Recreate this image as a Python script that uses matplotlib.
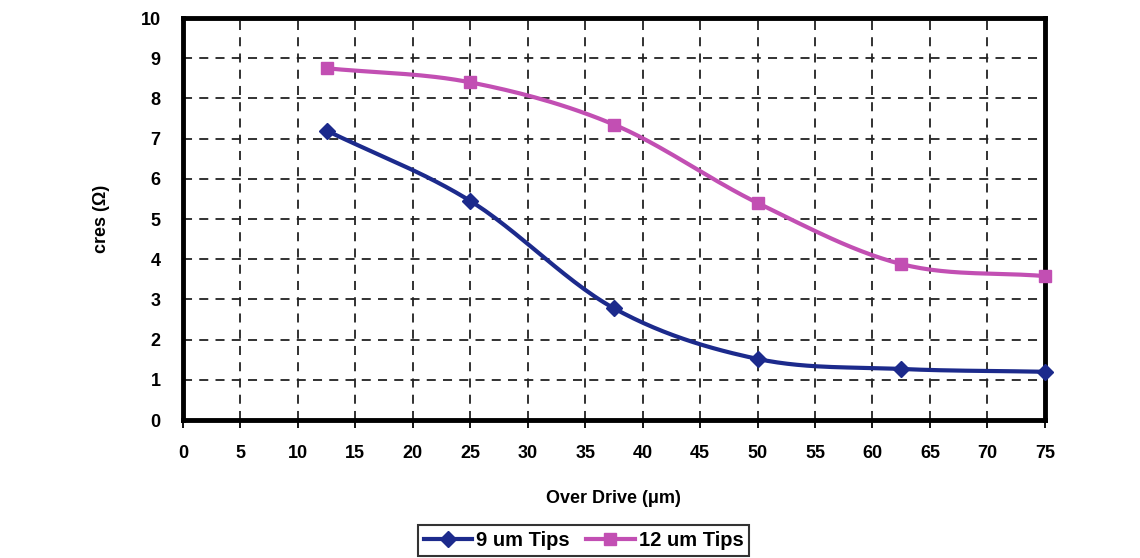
import numpy as np
from matplotlib import pyplot as plt

# data
drive = [12.5, 25, 37.5, 50, 62.5, 75]
tips9 = [7.2, 5.45, 2.78, 1.52, 1.27, 1.2]
tips12 = [8.75, 8.4, 7.35, 5.4, 3.88, 3.58]
xticks = list(range(0, 80, 5))
yticks = list(range(0, 11))


def smooth(x, y, n=30):
    # Catmull-Rom style smoothing like Excel's smoothed lines
    x = np.asarray(x, float)
    y = np.asarray(y, float)
    px = np.concatenate([[2 * x[0] - x[1]], x, [2 * x[-1] - x[-2]]])
    py = np.concatenate([[2 * y[0] - y[1]], y, [2 * y[-1] - y[-2]]])
    xs, ys = [], []
    t = np.linspace(0, 1, n)
    for i in range(1, len(px) - 2):
        for p, out in ((px, xs), (py, ys)):
            p0, p1, p2, p3 = p[i - 1], p[i], p[i + 1], p[i + 2]
            out.extend(0.5 * (2 * p1 + (-p0 + p2) * t
                              + (2 * p0 - 5 * p1 + 4 * p2 - p3) * t ** 2
                              + (-p0 + 3 * p1 - 3 * p2 + p3) * t ** 3))
    return xs, ys


plt.rcParams['font.family'] = ['Liberation Sans', 'DejaVu Sans']
plt.rcParams['font.weight'] = 'bold'

fig = plt.figure(figsize=(11.4, 5.58), dpi=100)
ax = fig.add_axes([0.1605, 0.2473, 0.756, 0.7204])

navy = '#1c2a8c'
pink = '#c24fb3'
sx, sy = smooth(drive, tips9)
ax.plot(sx, sy, c=navy, lw=3, zorder=3)
ax.plot(drive, tips9, ls='none', marker='D', ms=8, c=navy, zorder=4, clip_on=False)
sx, sy = smooth(drive, tips12)
ax.plot(sx, sy, c=pink, lw=3, zorder=3)
ax.plot(drive, tips12, ls='none', marker='s', ms=8, c=pink, zorder=4, clip_on=False)

# legend proxies
l1, = ax.plot([], [], c=navy, lw=3, marker='D', ms=8)
l2, = ax.plot([], [], c=pink, lw=3, marker='s', ms=8)

ax.set_xlim(0, 75)
ax.set_ylim(0, 10)
ax.set_xticks(xticks)
ax.set_yticks(yticks)
ax.grid(True, ls=(0, (5, 4)), c='#222222', lw=1.3)
for s in ax.spines.values():
    s.set_linewidth(3.5)
ax.tick_params(axis='x', direction='out', length=6, width=1.3, labelsize=13, pad=12)
ax.tick_params(axis='y', length=0, labelsize=13, pad=16)
ax.set_xlabel('Over Drive (\u03bcm)', fontsize=13, fontweight='bold', labelpad=20)
ax.set_ylabel('cres (\u03a9)', fontsize=13, fontweight='bold', labelpad=22)

leg = fig.legend([l1, l2], ['9 um Tips', '12 um Tips'], loc='center', bbox_to_anchor=(0.512, 0.032),
                 ncol=2, fontsize=14.5, frameon=True, fancybox=False, edgecolor='black',
                 handlelength=2.4, handletextpad=0.2, columnspacing=0.8, borderpad=0.3)
leg.get_frame().set_linewidth(1.5)

fig.savefig('out.png', dpi=100)
